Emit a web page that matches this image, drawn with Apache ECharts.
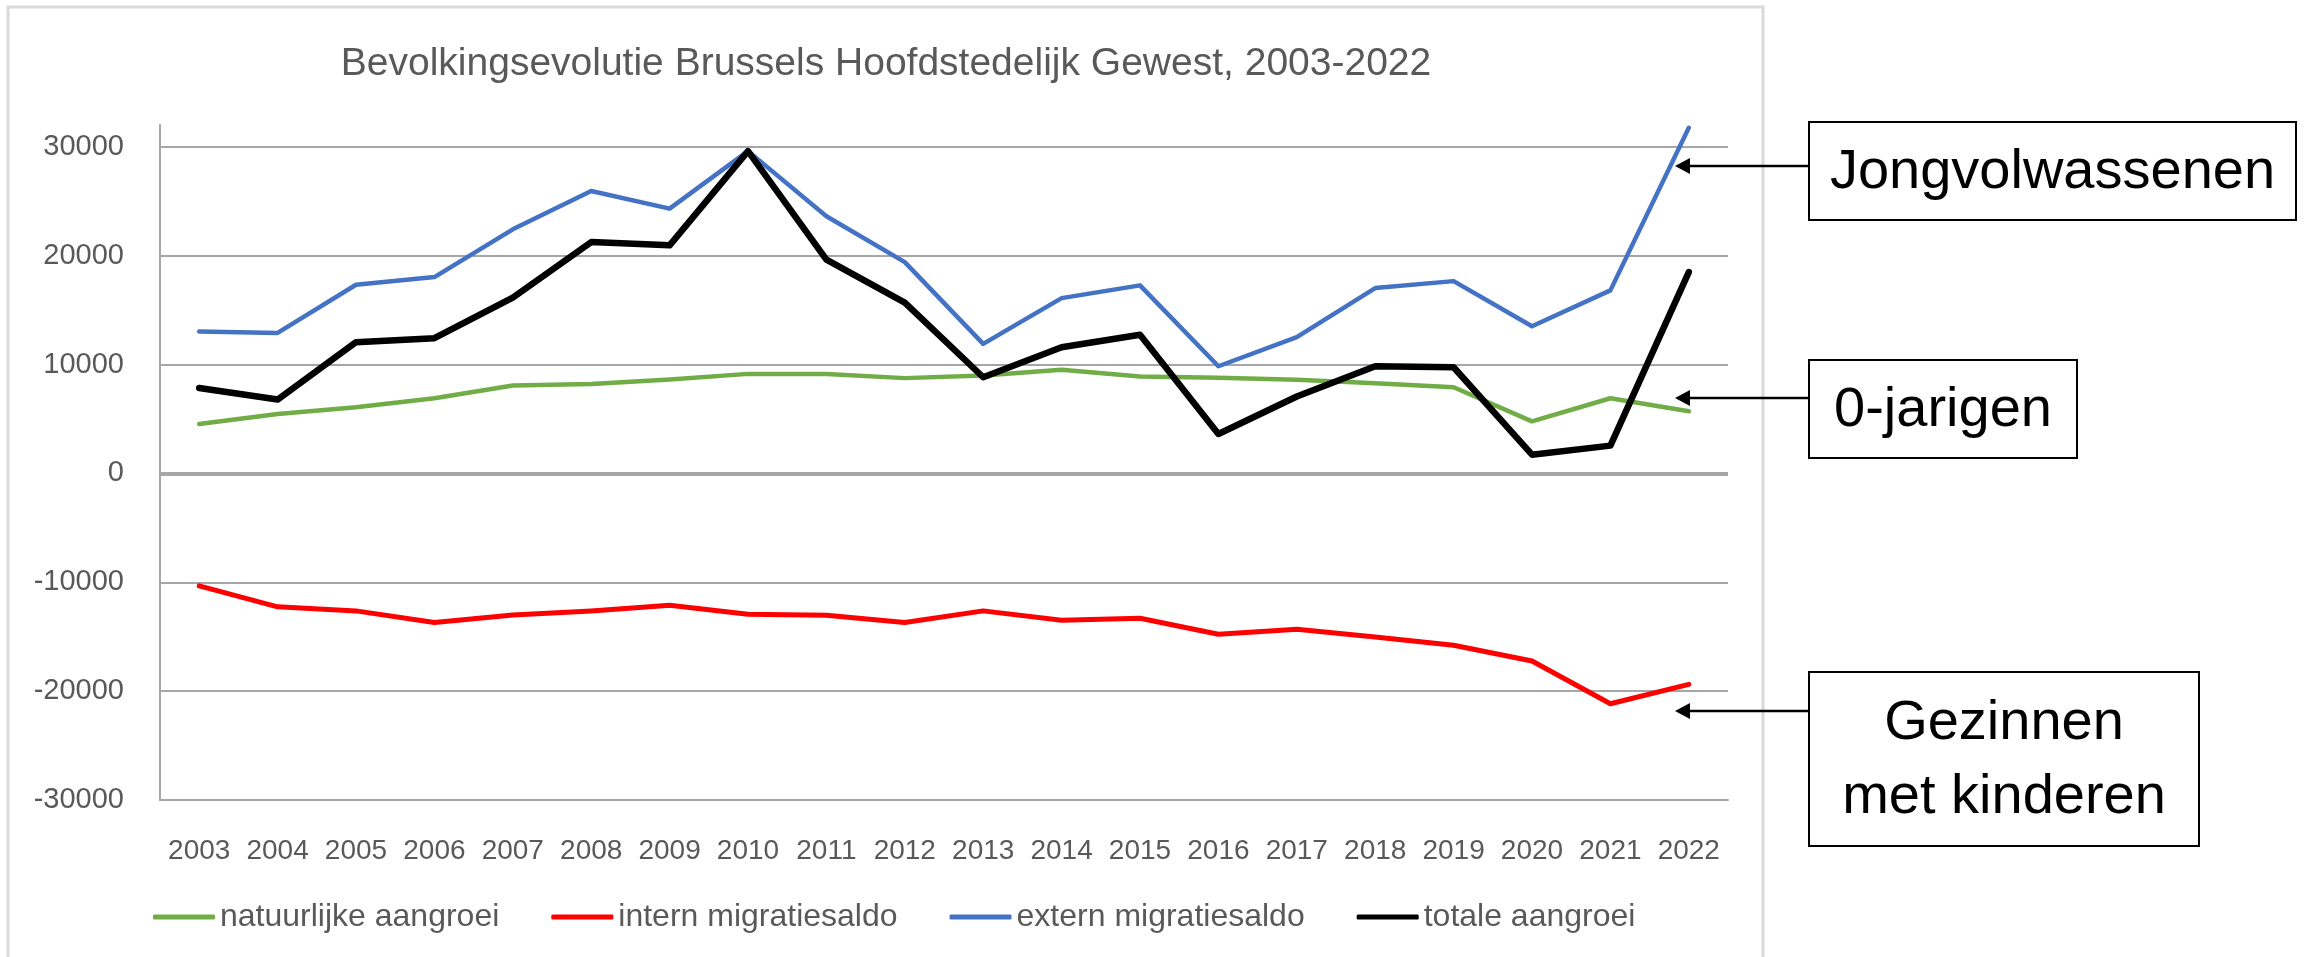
<!DOCTYPE html>
<html>
<head>
<meta charset="utf-8">
<title>Bevolkingsevolutie Brussels Hoofdstedelijk Gewest, 2003-2022</title>
<script src="https://cdn.jsdelivr.net/npm/echarts@6/dist/echarts.min.js"></script>
<style>
  html, body { margin: 0; padding: 0; background: #fff; }
  #chart { width: 2310px; height: 957px; }
</style>
</head>
<body>
<div id="chart"></div>
<script>
const years = ["2003", "2004", "2005", "2006", "2007", "2008", "2009", "2010", "2011", "2012",
  "2013", "2014", "2015", "2016", "2017", "2018", "2019", "2020", "2021", "2022"];

const natuurlijkeAangroei = [4540, 5460, 6070, 6900, 8070, 8220, 8620, 9140, 9140, 8750,
  8990, 9510, 8900, 8780, 8590, 8280, 7910, 4780, 6900, 5700];
const internMigratiesaldo = [-10330, -12260, -12630, -13700, -13000, -12630, -12110, -12940, -13030, -13700,
  -12630, -13490, -13300, -14780, -14320, -15020, -15790, -17230, -21160, -19380];
const externMigratiesaldo = [13040, 12900, 17330, 18030, 22420, 25940, 24320, 29600, 23620, 19410,
  11900, 16100, 17270, 9840, 12510, 17020, 17660, 13520, 16810, 31740];
const totaleAangroei = [7850, 6780, 12050, 12420, 16140, 21250, 20950, 29600, 19630, 15680,
  8830, 11590, 12730, 3620, 7060, 9840, 9750, 1720, 2550, 18490];

const seriesNames = ["natuurlijke aangroei", "intern migratiesaldo", "extern migratiesaldo", "totale aangroei"];
const annotationLabels = ["Jongvolwassenen", "0-jarigen", "Gezinnen\nmet kinderen"];

const FONT = "'Liberation Sans', Arial, sans-serif";
const GRID_GRAY = "#a6a6a6";
const TEXT_GRAY = "#595959";

// annotation boxes on the right: [x, y, w, h, arrowY]
const boxes = [
  [1809, 122, 487, 98, 166],
  [1809, 360, 268, 98, 398],
  [1809, 672, 390, 174, 711],
];
const arrowTipX = 1675;

const makeLine = (name, data, color, width, extra) => Object.assign({
  name: name,
  type: "line",
  data: data,
  symbol: "none",
  lineStyle: { color: color, width: width, cap: "round", join: "round" },
  itemStyle: { color: color },
  emphasis: { disabled: true },
  z: 3,
}, extra || {});

const annotationGraphics = [];
boxes.forEach((b, i) => {
  const [x, y, w, h, ay] = b;
  annotationGraphics.push({
    type: "rect",
    shape: { x: x, y: y, width: w, height: h },
    style: { fill: "#fff", stroke: "#000", lineWidth: 2 },
    silent: true,
  });
  annotationGraphics.push({
    type: "text",
    x: x + w / 2,
    y: y + h / 2 + 2,
    style: {
      text: annotationLabels[i],
      font: "56px " + FONT,
      fill: "#000",
      align: "center",
      verticalAlign: "middle",
      lineHeight: 74,
    },
    silent: true,
  });
  annotationGraphics.push({
    type: "line",
    shape: { x1: x, y1: ay, x2: arrowTipX + 10, y2: ay },
    style: { stroke: "#000", lineWidth: 2.5 },
    silent: true,
  });
  annotationGraphics.push({
    type: "polygon",
    shape: { points: [[arrowTipX, ay], [arrowTipX + 15, ay - 8], [arrowTipX + 15, ay + 8]] },
    style: { fill: "#000" },
    silent: true,
  });
});

const chart = echarts.init(document.getElementById("chart"));

chart.setOption({
  backgroundColor: "#fff",
  animation: false,
  title: {
    text: "Bevolkingsevolutie Brussels Hoofdstedelijk Gewest, 2003-2022",
    left: 886,
    top: 45,
    padding: 0,
    textAlign: "center",
    textStyle: { fontFamily: FONT, fontSize: 39, fontWeight: "normal", color: TEXT_GRAY },
  },
  legend: {
    left: 148,
    top: 896,
    icon: "roundRect",
    itemWidth: 62,
    itemHeight: 5,
    itemGap: 52,
    selectedMode: false,
    textStyle: { fontFamily: FONT, fontSize: 32, color: TEXT_GRAY },
    data: seriesNames,
  },
  grid: { left: 160, right: 582, top: 125, bottom: 157 },
  xAxis: {
    type: "category",
    data: years,
    boundaryGap: true,
    axisLine: { onZero: false, lineStyle: { color: GRID_GRAY, width: 2 } },
    axisTick: { show: false },
    axisLabel: { interval: 0, fontFamily: FONT, fontSize: 28, color: TEXT_GRAY, margin: 37 },
  },
  yAxis: {
    type: "value",
    min: -30000,
    max: 32000,
    interval: 10000,
    axisLine: { show: true, lineStyle: { color: GRID_GRAY, width: 2 } },
    axisTick: { show: false },
    axisLabel: {
      fontFamily: FONT, fontSize: 29, color: TEXT_GRAY, margin: 36, showMaxLabel: false,
      formatter: (v) => String(v),
    },
    splitLine: { show: true, showMaxLine: false, lineStyle: { color: GRID_GRAY, width: 2 } },
  },
  graphic: [
    {
      type: "rect",
      shape: { x: 8, y: 7, width: 1755, height: 960 },
      style: { fill: "none", stroke: "#d9d9d9", lineWidth: 3 },
      silent: true,
      z: -10,
    },
  ].concat(annotationGraphics),
  series: [
    makeLine(seriesNames[0], natuurlijkeAangroei, "#70ad47", 4.5, {
      markLine: {
        silent: true,
        symbol: "none",
        label: { show: false },
        emphasis: { disabled: true },
        lineStyle: { color: GRID_GRAY, width: 4, type: "solid" },
        data: [{ yAxis: 0 }],
        z: 1,
      },
    }),
    makeLine(seriesNames[1], internMigratiesaldo, "#ff0000", 5),
    makeLine(seriesNames[2], externMigratiesaldo, "#4472c4", 4.5),
    makeLine(seriesNames[3], totaleAangroei, "#000000", 6.5),
  ],
});
</script>
</body>
</html>
